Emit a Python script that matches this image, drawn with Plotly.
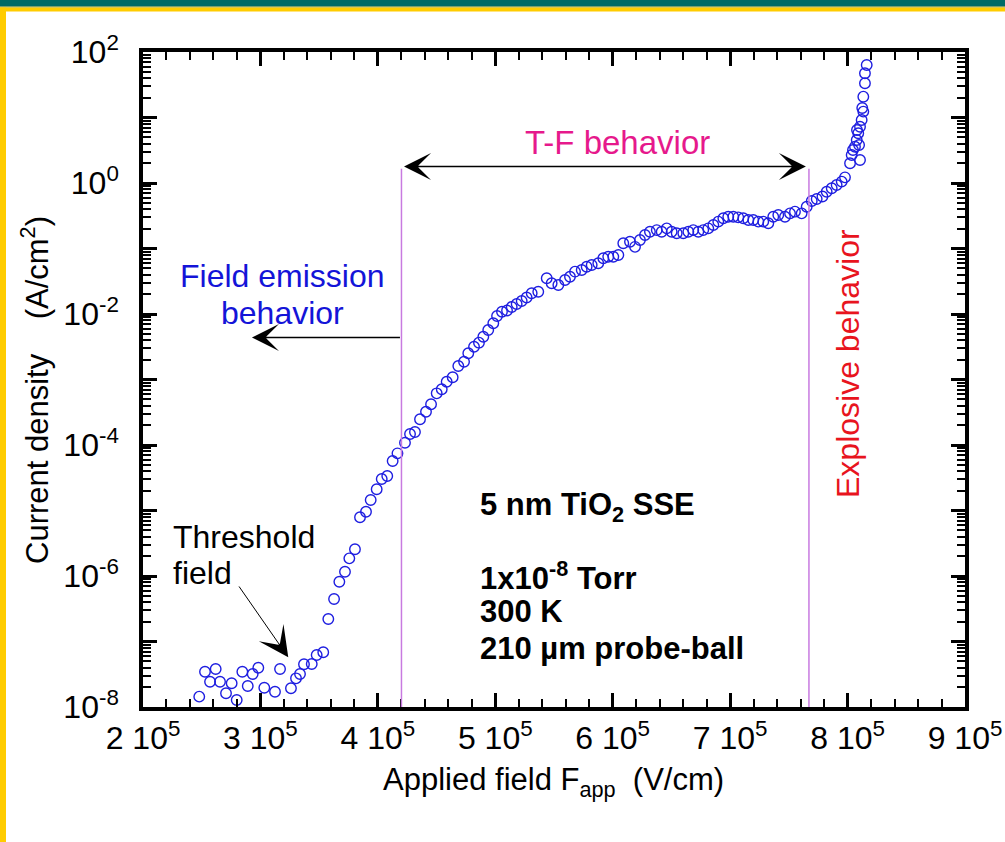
import math
import plotly.graph_objects as go

# ---------------- data ----------------
field_Vcm = [247900, 252800, 257100, 261900, 265600, 270700, 275500, 279800, 284600, 289200,
             293400, 298200, 303300, 312400, 316700, 326000, 330300, 333700, 337100, 343700,
             347900, 353500, 357800, 362700, 367200, 372000, 375700, 380500, 384800, 389900,
             393900, 399000, 403300, 408000, 412600, 416700, 423100, 427400, 431600, 435900,
             441000, 445300, 450100, 454400, 458600, 463700, 468500, 473400, 477000, 481900,
             486100, 489800, 494000, 498300, 501500, 505700, 510000, 514000, 518200, 522500,
             526700, 531000, 536600, 543800, 548000, 553700, 559400, 563600, 567900, 573600,
             577800, 582100, 587700, 592000, 596200, 600500, 604800, 609000, 614700, 619000,
             623200, 627500, 631700, 637500, 641700, 646000, 650200, 654500, 660100, 664400,
             668600, 672900, 677100, 681400, 685700, 689900, 694200, 698400, 702700, 706900,
             711200, 715500, 719700, 724000, 728200, 732500, 736700, 741000, 746700, 751000,
             755200, 760900, 765200, 769500, 773700, 778600, 782200, 786500, 790700, 795000,
             797800, 802100, 803500, 804600, 806300, 807800, 808000, 809100, 809800, 810600,
             810600, 812000, 812500, 813400, 813400, 814800, 814800, 816300]

current_density = [1.44e-8, 3.46e-8, 2.43e-8, 3.80e-8, 2.43e-8, 1.62e-8, 2.30e-8, 1.28e-8, 3.46e-8, 2.09e-8,
                   3.19e-8, 3.98e-8, 1.97e-8, 1.71e-8, 3.80e-8, 1.93e-8, 2.74e-8, 3.19e-8, 4.49e-8, 4.53e-8,
                   6.22e-8, 6.84e-8, 2.21e-7, 4.46e-7, 8.18e-7, 1.16e-6, 1.86e-6, 2.56e-6, 7.87e-6, 9.59e-6,
                   1.45e-5, 2.11e-5, 3.03e-5, 3.36e-5, 5.70e-5, 7.46e-5, 1.08e-4, 1.47e-4, 1.58e-4, 2.47e-4,
                   3.22e-4, 4.18e-4, 6.15e-4, 7.08e-4, 9.25e-4, 1.08e-3, 1.61e-3, 1.87e-3, 2.51e-3, 3.17e-3,
                   3.65e-3, 4.50e-3, 5.70e-3, 7.21e-3, 9.31e-3, 1.08e-2, 1.13e-2, 1.28e-2, 1.42e-2, 1.58e-2,
                   1.79e-2, 2.07e-2, 2.19e-2, 3.51e-2, 2.94e-2, 2.77e-2, 3.30e-2, 3.71e-2, 4.43e-2, 4.70e-2,
                   5.27e-2, 5.60e-2, 5.94e-2, 7.08e-2, 7.50e-2, 7.50e-2, 7.96e-2, 0.120, 0.127, 0.106,
                   0.135, 0.161, 0.180, 0.191, 0.180, 0.203, 0.180, 0.171, 0.171, 0.180,
                   0.191, 0.180, 0.191, 0.203, 0.229, 0.257, 0.289, 0.306, 0.306, 0.299,
                   0.289, 0.272, 0.272, 0.257, 0.257, 0.243, 0.306, 0.325, 0.306, 0.344,
                   0.365, 0.344, 0.435, 0.531, 0.570, 0.622, 0.736, 0.830, 0.931, 1.05,
                   1.22, 2.00, 2.67, 3.19, 3.58, 4.53, 6.44, 5.74, 3.80, 7.24,
                   2.24, 9.16, 14.0, 12.3, 20.8, 33.3, 47.3, 63.3]

x_tick_vals = [200000, 300000, 400000, 500000, 600000, 700000, 800000, 900000]
x_tick_text = ["2 10<sup>5</sup>", "3 10<sup>5</sup>", "4 10<sup>5</sup>", "5 10<sup>5</sup>",
               "6 10<sup>5</sup>", "7 10<sup>5</sup>", "8 10<sup>5</sup>", "9 10<sup>5</sup>"]
y_decades = [-8, -7, -6, -5, -4, -3, -2, -1, 0, 1, 2]
y_tick_vals = [10.0 ** d for d in y_decades]
y_tick_text = ["10<sup>%d</sup>" % d if d % 2 == 0 else "" for d in y_decades]
y_minor_vals = [k * 10.0 ** d for d in y_decades[:-1] for k in range(2, 10)]

# region boundaries (V/cm) and their vertical extent (A/cm^2)
tf_start_field = 420100
tf_end_field = 767100
boundary_top = 44.6
tf_start_bottom = 5.0e-6
tf_end_bottom = 1.9e-6

# ---------------- layout geometry ----------------
W, H = 1005, 842
L, R, T, B = 143, 965, 52, 707


def px(x):
    return (x - L) / (R - L)


def py(y):
    return (B - y) / (B - T)


FONT = "Liberation Sans, Arial, Helvetica, sans-serif"
lg = math.log10

fig = go.Figure()
fig.add_trace(go.Scatter(
    x=field_Vcm, y=current_density, mode="markers",
    marker=dict(symbol="circle-open", size=10.5, color="#1E1EE0", line=dict(width=1.4, color="#1E1EE0")),
    showlegend=False, hoverinfo="x+y"))

shapes = [
    # slide decoration
    dict(type="rect", xref="paper", yref="paper", x0=px(-5), x1=px(W + 5), y0=py(-5), y1=py(6.5),
         fillcolor="#006A66", line=dict(width=0), layer="above"),
    dict(type="rect", xref="paper", yref="paper", x0=px(-5), x1=px(W + 5), y0=py(6.5), y1=py(7.5),
         fillcolor="#7A8A2A", line=dict(width=0), layer="above"),
    dict(type="rect", xref="paper", yref="paper", x0=px(-5), x1=px(W + 5), y0=py(7.5), y1=py(11.5),
         fillcolor="#FFCC00", line=dict(width=0), layer="above"),
    dict(type="rect", xref="paper", yref="paper", x0=px(-5), x1=px(6), y0=py(7.5), y1=py(H + 5),
         fillcolor="#FFCC00", line=dict(width=0), layer="above"),
    # region boundaries
    dict(type="line", xref="x", yref="y", x0=tf_start_field, x1=tf_start_field,
         y0=lg(tf_start_bottom), y1=lg(boundary_top), line=dict(color="#C87AE0", width=1.5)),
    dict(type="line", xref="x", yref="y", x0=tf_end_field, x1=tf_end_field,
         y0=lg(tf_end_bottom), y1=lg(boundary_top), line=dict(color="#C87AE0", width=1.5)),
]

ann = []


def text(x, y, s, size=32, color="black", xanchor="center", angle=0, bold=False):
    ann.append(dict(xref="paper", yref="paper", x=px(x), y=py(y), text=("<b>%s</b>" % s) if bold else s,
                    showarrow=False, xanchor=xanchor, yanchor="middle", textangle=angle,
                    font=dict(family=FONT, size=size, color=color)))


NB = "\u00a0"
text(617, 143, "T-F behavior", size=33, color="#E6198C")
text(282, 276, "Field emission", color="#1414D8")
text(282, 313, "behavior", color="#1414D8")
text(848, 364, "Explosive behavior", color="#E8141E", angle=-90)
text(171, 537, "Threshold", xanchor="left")
text(171, 573, "field", xanchor="left")
text(478, 507, "5 nm TiO<sub>2</sub> SSE", size=31, xanchor="left", bold=True)
text(478, 576, "1x10<sup>-8</sup> Torr", size=31, xanchor="left", bold=True)
text(478, 611, "300 K", size=31, xanchor="left", bold=True)
text(478, 648, "210 µm probe-ball", size=31, xanchor="left", bold=True)
text(553, 782, "Applied field F<sub>app</sub>" + NB * 2 + "(V/cm)", size=31)
text(35, 390, "Current density" + NB * 4 + "(A/cm<sup>2</sup>)", size=31, angle=-90)

# arrows (data coordinates; y in log10 for log axis)
ann.append(dict(xref="x", yref="y", axref="x", ayref="y",
                x=764500, y=0.252, ax=421000, ay=0.252, text="", showarrow=True,
                arrowhead=3, startarrowhead=3, arrowside="end+start", arrowsize=3.0, startarrowsize=3.0,
                arrowwidth=1.5, arrowcolor="black"))
ann.append(dict(xref="x", yref="y", axref="x", ayref="y",
                x=292800, y=-2.359, ax=tf_start_field, ay=-2.359, text="", showarrow=True,
                arrowhead=3, arrowsize=3.0, arrowwidth=1.5, arrowcolor="black"))
ann.append(dict(xref="x", yref="y", axref="x", ayref="y",
                x=323700, y=-7.241, ax=280900, ay=-6.137, text="", showarrow=True,
                arrowhead=3, arrowsize=5.0, arrowwidth=1, arrowcolor="black"))

axis_common = dict(showgrid=False, zeroline=False, showline=True, linecolor="black", linewidth=3.5,
                   mirror="allticks", ticks="inside", ticklen=14, tickwidth=2.5, tickcolor="black",
                   tickfont=dict(family=FONT, size=32, color="black"))

fig.update_layout(
    width=W, height=H, margin=dict(l=L, r=W - R, t=T, b=H - B, autoexpand=False),
    paper_bgcolor="white", plot_bgcolor="white",
    xaxis=dict(range=[200000, 900000], tickmode="array", tickvals=x_tick_vals, ticktext=x_tick_text,
               ticklabelstandoff=0,
               minor=dict(tick0=200000, dtick=20000, ticks="inside", ticklen=8, tickwidth=2, tickcolor="black"),
               **axis_common),
    yaxis=dict(type="log", range=[-8, 2], tickmode="array", tickvals=y_tick_vals, ticktext=y_tick_text,
               ticklabelstandoff=14,
               minor=dict(tickmode="array", tickvals=y_minor_vals, ticks="inside", ticklen=8, tickwidth=2,
                          tickcolor="black"),
               **axis_common),
    shapes=shapes, annotations=ann, showlegend=False,
)

fig.write_html("out.html")
